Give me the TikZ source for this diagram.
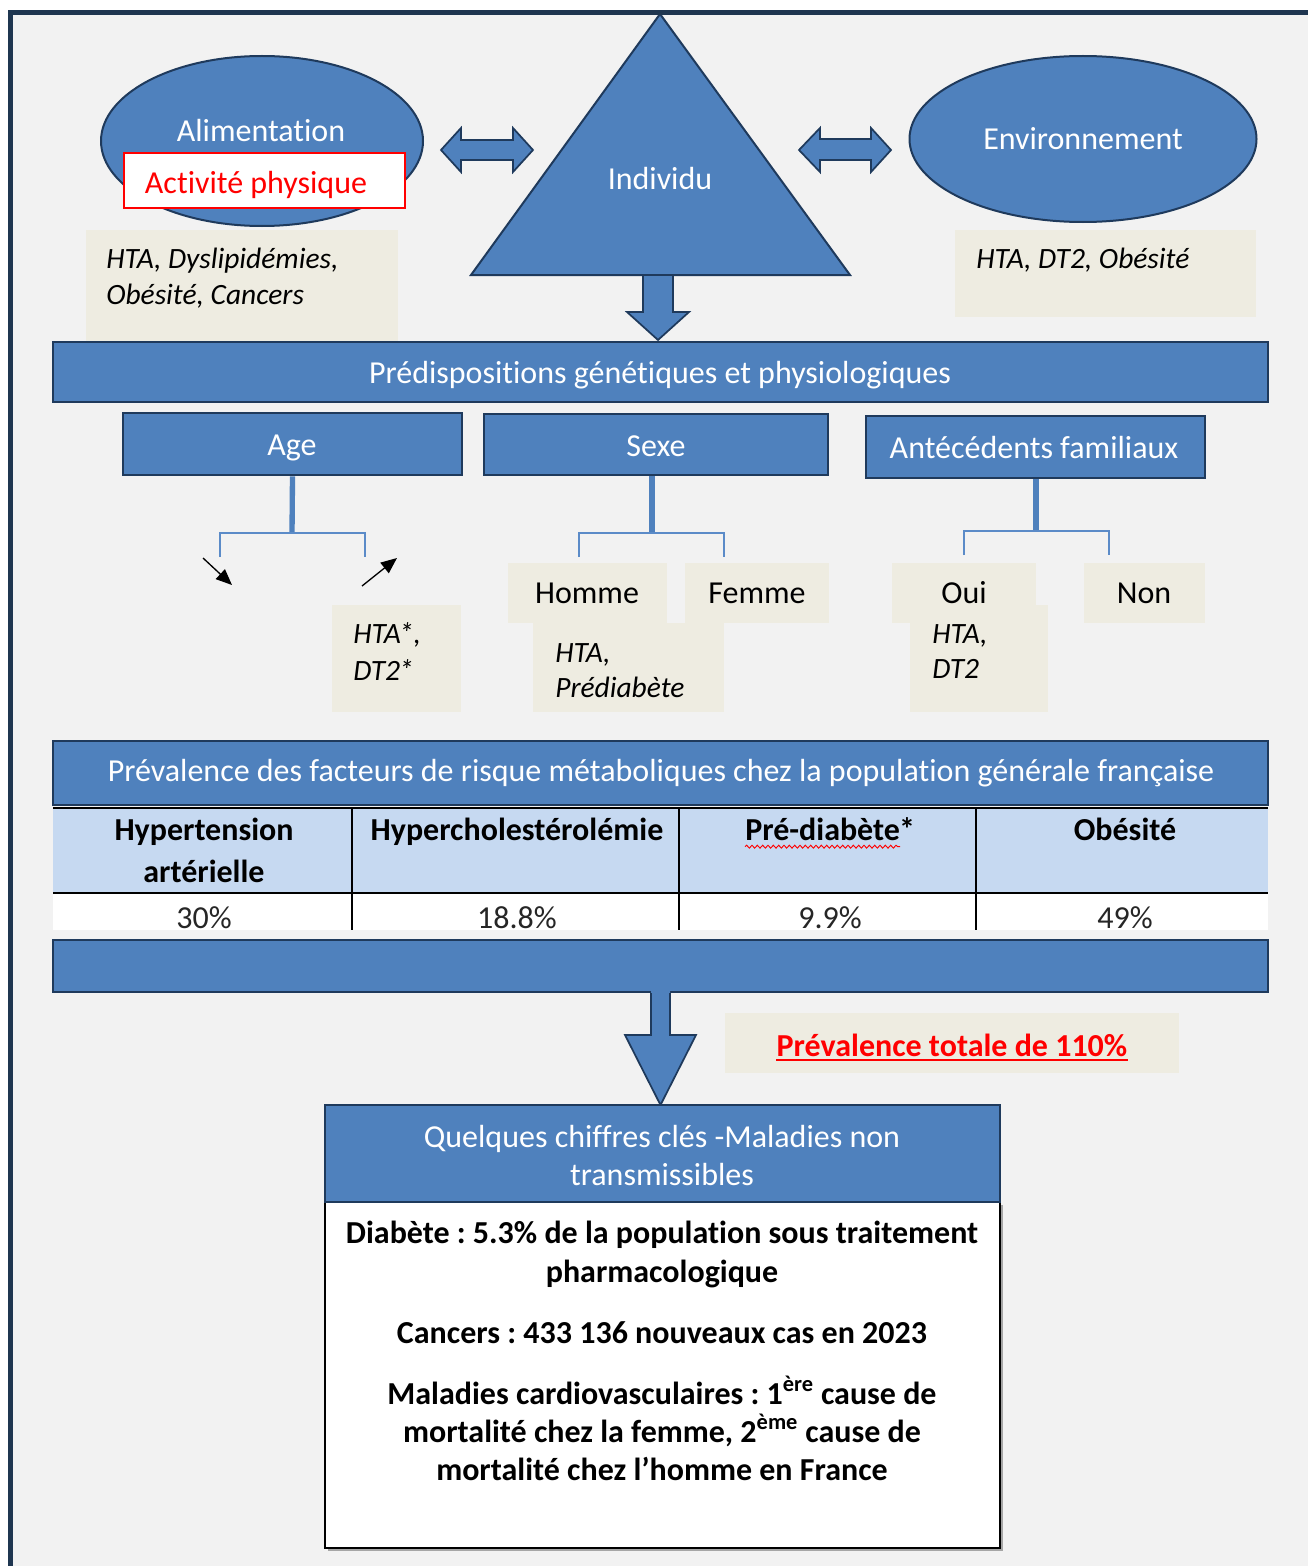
\documentclass[tikz,border=0pt]{standalone}
\usepackage{fontspec}
\setmainfont{Carlito}[Ligatures=NoCommon, Contextuals=NoAlternate]
\usetikzlibrary{fit,arrows.meta,decorations.pathmorphing,shapes.geometric}
\definecolor{bggray}{HTML}{F2F2F2}
\definecolor{bblue}{HTML}{4F81BD}
\definecolor{bdark}{HTML}{1F3A5C}
\definecolor{framecol}{HTML}{1F3650}
\definecolor{beige}{HTML}{EEECE1}
\definecolor{thead}{HTML}{C6D9F1}
\definecolor{branchcol}{HTML}{5B8BC8}
\newcommand\myfs{\fontsize{24}{29}\selectfont}
\newcommand\myit{\fontsize{22.1}{27}\selectfont\itshape}
\frenchspacing
\begin{document}
\frenchspacing
\begin{tikzpicture}[x=0.75pt,y=-0.75pt,
  every node/.style={font=\myfs, inner sep=0pt},
  blk/.style={draw=bdark, line width=2pt, fill=bblue},
  bei/.style={fill=beige},
  wtxt/.style={text=white, anchor=base},
  btxt/.style={text=black, anchor=base},
  itxt/.style={text=black, anchor=base west, font=\myit},
  bldtxt/.style={text=black, anchor=base, font=\myfs\bfseries},
  valtxt/.style={text=black!85, anchor=base},
  trunk/.style={draw=bblue, line width=4pt},
  branch/.style={draw=branchcol, line width=1.3pt},
  smallarrow/.style={draw=black, line width=1pt, -{Triangle[length=12pt,width=10pt]}},
  fatarrow/.style={fill=bblue, draw=bdark, line width=1.3pt, line join=miter},
  tline/.style={draw=black, line width=1.3pt},
]
\useasboundingbox (0,0) rectangle (1308,1566);
\fill[white] (0,0) rectangle (1308,1566);
\fill[bggray] (10,12) rectangle (1308,1566);

% ---- top left: Alimentation
\node[bei, fit={(86,230)(398,341)}] (alimrisk) {};
\node[itxt] (alimr1) at (106,268) {HTA, Dyslipidémies,};
\node[itxt] (alimr2) at (106,304) {Obésité, Cancers};
\node[ellipse, draw=bdark, line width=1.5pt, fill=bblue, minimum width=241.5pt, minimum height=127.5pt] (alim) at (262,141) {};
\node[wtxt] (alimt) at (261,142) {Alimentation};
\node[fit={(124,153)(405,208)}, draw=red, line width=0.9pt, fill=white] (act) {};
\node[btxt, text=red] (actt) at (256,193) {Activité physique};

% ---- top right: Environnement
\node[bei, fit={(955,230)(1256,317)}] (envrisk) {};
\node[itxt] (envr1) at (976,268) {HTA, DT2, Obésité};
\node[ellipse, draw=bdark, line width=1.5pt, fill=bblue, minimum width=260.25pt, minimum height=124.5pt] (env) at (1083,139) {};
\node[wtxt] (envt) at (1083,150) {Environnement};

% ---- Individu triangle
\coordinate (triA) at (660,14);
\coordinate (triR) at (850,275);
\coordinate (triL) at (471,275);
\filldraw[fill=bblue, draw=bdark, line width=1.5pt, line join=miter] (triA) -- (triR) -- (triL) -- cycle;
\node[wtxt] (indiv) at (660,190) {Individu};

% ---- double arrows
\filldraw[fatarrow] (441,150) -- (461,128) -- (461,140) -- (513,140) -- (513,128) -- (533,150) -- (513,172) -- (513,160) -- (461,160) -- (461,172) -- cycle;
\filldraw[fatarrow] (799,150) -- (820,128) -- (820,139) -- (871,139) -- (871,128) -- (891,150) -- (871,172) -- (871,160) -- (820,160) -- (820,172) -- cycle;

% ---- down arrow to predispositions
\filldraw[fatarrow] (643,275) -- (673,275) -- (673,312) -- (689,312) -- (658,340) -- (627,312) -- (643,312) -- cycle;

\node[blk, fit={(53,342)(1268,402)}] (pred) {};
\node[wtxt] (predt) at (660,383) {Prédispositions génétiques et physiologiques};

% ---- three categories
\node[blk, fit={(123,413)(462,475)}] (age) {};
\node[wtxt] (aget) at (292,455) {Age};
\node[blk, fit={(484,414)(828,475)}] (sexe) {};
\node[wtxt] (sexet) at (656,456) {Sexe};
\node[blk, fit={(866,416)(1205,478)}] (ante) {};
\node[wtxt] (antet) at (1034,458) {Antécédents familiaux};

% trees
\coordinate (ageJ) at (292,533);
\coordinate (ageL) at (220,557);
\coordinate (ageR) at (365,557);
\draw[trunk] (age.south) -- (ageJ);
\draw[branch] (ageL) |- (ageJ) -| (ageR);

\coordinate (sexJ) at (652,533);
\coordinate (sexL) at (579,557);
\coordinate (sexR) at (724,557);
\draw[trunk] (sexJ |- sexe.south) -- (sexJ);
\draw[branch] (sexL) |- (sexJ) -| (sexR);

\coordinate (antJ) at (1036,531);
\coordinate (antL) at (964,555);
\coordinate (antR) at (1109,555);
\draw[trunk] (antJ |- ante.south) -- (antJ);
\draw[branch] (antL) |- (antJ) -| (antR);

% age arrows
\coordinate (a1s) at (203,558); \coordinate (a1e) at (232,585);
\coordinate (a2s) at (362,586); \coordinate (a2e) at (397,558);
\draw[smallarrow] (a1s) -- (a1e);
\draw[smallarrow] (a2s) -- (a2e);

% beige boxes
\node[bei, fit={(332,605)(461,712)}] (ageold) {};
\node[itxt] (ageo1) at (353,643) {HTA\kern-1.5pt*,};
\node[itxt] (ageo2) at (353,680) {DT2\kern-1pt*};

\node[bei, fit={(508,563)(667,623)}] (homme) {};
\node[bei, fit={(533,623)(724,712)}] (hommer) {};
\node[bei, fit={(685,563)(829,623)}] (femme) {};
\node[btxt] (hommet) at (587,603) {Homme};
\node[btxt] (femmet) at (757,603) {Femme};
\node[itxt] (hr1) at (555,662) {HTA,};
\node[itxt] (hr2) at (555,697) {Prédiabète};

\node[bei, fit={(892,563)(1036,623)}] (oui) {};
\node[bei, fit={(910,605)(1048,712)}] (ouir) {};
\node[bei, fit={(1084,563)(1205,623)}] (non) {};
\node[btxt] (ouit) at (964,603) {Oui};
\node[btxt] (nont) at (1144,603) {Non};
\node[itxt] (or1) at (932,643) {HTA,};
\node[itxt] (or2) at (932,678) {DT2};

% ---- table
\node[blk, fit={(53,741)(1268,805)}] (prev) {};
\node[wtxt] (prevt) at (661,781) {Prévalence des facteurs de risque métaboliques chez la population générale française};
\fill[thead] (53,808) rectangle (1268,893);
\fill[white] (53,894) rectangle (1268,930);
\draw[tline] (53,808) -- (1268,808);
\draw[tline] (53,893) -- (1268,893);
\draw[tline] (352,808) -- (352,930);
\draw[tline] (679,808) -- (679,930);
\draw[tline] (976,808) -- (976,930);

\node[bldtxt] (th1a) at (204,840) {Hypertension};
\node[bldtxt] (th1b) at (204,882) {artérielle};
\node[bldtxt] (th2) at (517,840) {Hypercholestérolémie};
\node[bldtxt, anchor=base west] (pdt) at (745,840) {Pré-diabète};
\node[bldtxt, anchor=base west] (pds) at ([xshift=-1pt]pdt.base east) {*};
\draw[red, line width=0.7pt, decorate, decoration={snake, amplitude=1.1pt, segment length=4pt}] ([yshift=-5pt]pdt.base west) -- ([yshift=-5pt]pdt.base east);
\node[bldtxt] (th4) at (1125,840) {Obésité};

\node[valtxt] (v1) at (204,928) {30\%};
\node[valtxt] (v2) at (517,928) {18.8\%};
\node[valtxt] (v3) at (830,928) {9.9\%};
\node[valtxt] (v4) at (1125,928) {49\%};

\node[blk, fit={(53,940)(1268,992)}] (sumbar) {};

% down arrow to key figures
\fill[bblue] (651,990) -- (651,1035) -- (625,1035) -- (660.5,1105) -- (696,1035) -- (670,1035) -- (670,990) -- cycle;
\draw[bdark, line width=1.3pt, line join=miter] (651,993) -- (651,1035) -- (625,1035) -- (660.5,1105) -- (696,1035) -- (670,1035) -- (670,993);

% total prevalence
\node[bei, fit={(725,1013)(1179,1073)}] (tot) {};
\node[bldtxt, text=red] (tott) at (952,1056) {Prévalence totale de 110\%};
\draw[red, line width=2pt] ([yshift=-3pt]tott.base west) -- ([yshift=-3pt]tott.base east);

% ---- key figures
\fill[black!35] (328,1205) rectangle (1003,1551);
\node[fit={(325,1202)(1000,1548)}, draw=black, line width=0.8pt, fill=white] (keybody) {};
\node[blk, fit={(325,1105)(1000,1202)}] (key) {};
\node[wtxt] (key1) at (662,1147) {Quelques chiffres clés -Maladies non};
\node[wtxt] (key2) at (662,1185) {transmissibles};

\node[bldtxt] (k1) at (662,1243) {Diabète : 5.3\% de la population sous traitement};
\node[bldtxt] (k2) at (662,1282) {pharmacologique};
\node[bldtxt] (k3) at (662,1343) {Cancers : 433 136 nouveaux cas en 2023};
\node[bldtxt] (k4) at (662,1404) {Maladies cardiovasculaires : 1\textsuperscript{ère} cause de};
\node[bldtxt] (k5) at (662,1442) {mortalité chez la femme, 2\textsuperscript{ème} cause de};
\node[bldtxt] (k6) at (662,1480) {mortalité chez l’homme en France};

% ---- frame
\draw[framecol, line width=3.75pt] (10.5,1566) -- (10.5,12.5) -- (1308,12.5);
\end{tikzpicture}
\end{document}
